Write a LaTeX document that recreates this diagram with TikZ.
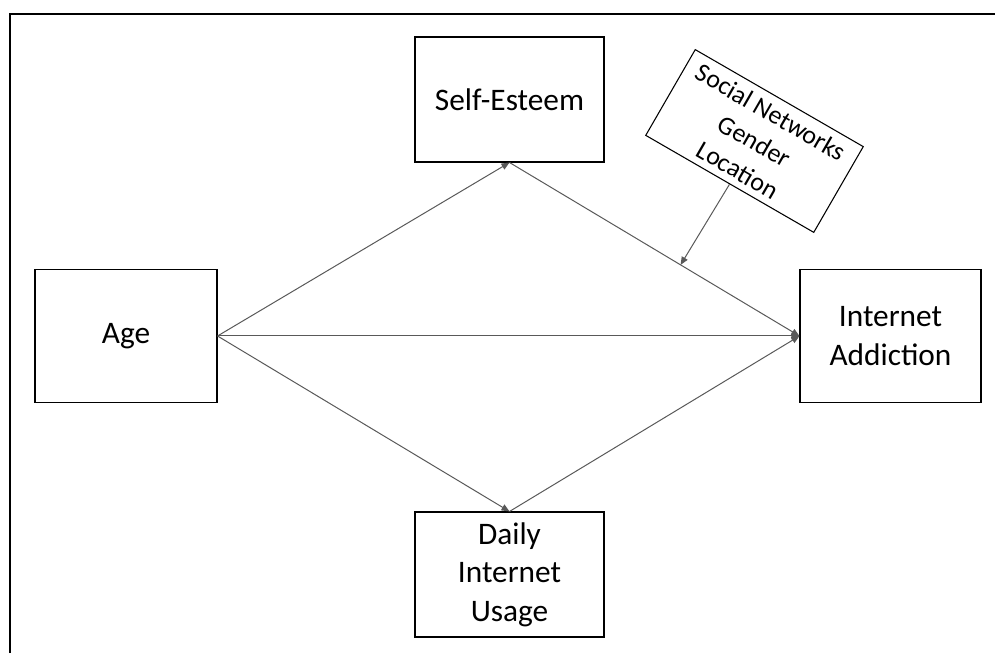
\documentclass[tikz,border=0pt]{standalone}
\usepackage{fontspec}
\setmainfont{Carlito}
\usepackage{tikz}
\usetikzlibrary{arrows.meta,positioning,calc}

\begin{document}
\begin{tikzpicture}[
    x=0.75pt, y=0.75pt,
    font=\fontsize{23.5}{29}\selectfont,
    var/.style={draw, line width=0.8pt, align=center, inner sep=2pt},
    arrow/.style={-{Triangle[length=6pt, width=5pt]}, line width=0.75pt, draw=black!65},
]
\useasboundingbox (0,0) rectangle (995,653);
% frame on top and left
\draw[line width=1.2pt] (10,0) -- (10,639) -- (995,639);

\node[var, minimum width=136.5pt, minimum height=99.75pt] (age) at (126,317) {Age};
\node[var, minimum width=141.75pt, minimum height=93.75pt] (se) at (509.5,553.5) {Self-Esteem};
\node[var, minimum width=141.75pt, minimum height=93.75pt] (diu) at (509.5,78.5) {Daily\\Internet\\Usage};
\node[var, minimum width=135.75pt, minimum height=99.75pt] (ia) at (890.5,317) {Internet\\Addiction};
\node[var, minimum width=145.5pt, minimum height=74.25pt, rotate=-30,
      font=\fontsize{19.5}{25}\selectfont] (mod) at (754.5,512) {Social Networks\\Gender\\Location};

\draw[arrow] (age.east) -- (se.south);
\draw[arrow] (age.east) -- (diu.north);
\draw[arrow] (age.east) -- (ia.west);
\draw[arrow] (se.south) -- coordinate[pos=0.59] (modpt) (ia.west);
\draw[arrow] (diu.north) -- (ia.west);
\draw[arrow] (mod.south) -- (modpt);
\end{tikzpicture}
\end{document}
